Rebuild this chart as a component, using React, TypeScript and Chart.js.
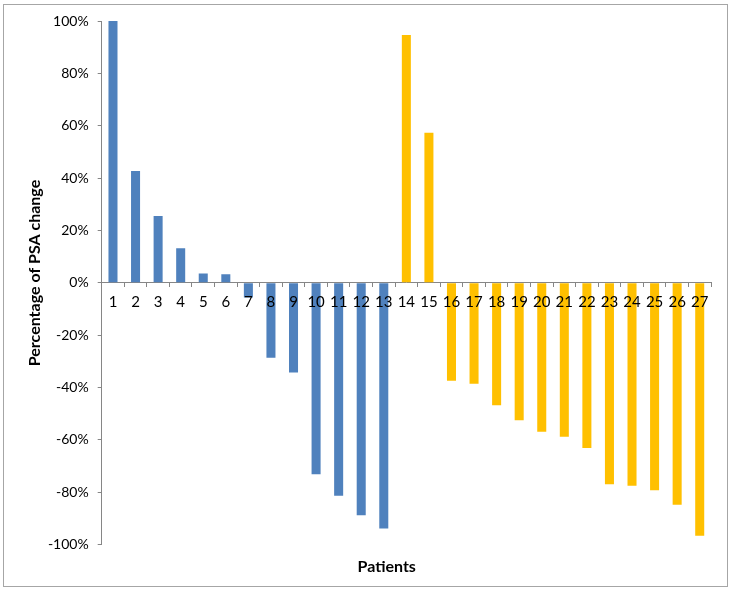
import React, { useEffect, useRef } from "react";
import { Chart, registerables } from "chart.js";

Chart.register(...registerables);

const patients: string[] = [
  "1", "2", "3", "4", "5", "6", "7", "8", "9", "10", "11", "12", "13", "14",
  "15", "16", "17", "18", "19", "20", "21", "22", "23", "24", "25", "26", "27",
];

// PSA change (%) per patient; group A = patients 1-13, group B = patients 14-27
const psaChange: number[] = [
  100, 42.7, 25.5, 13.2, 3.6, 3.3, -5.6, -28.6, -34.2, -73.1, -81.3, -88.8, -93.8,
  94.7, 57.3, -37.4, -38.5, -46.7, -52.5, -56.9, -58.8, -63.1, -76.9, -77.5, -79.2, -84.7, -96.6,
];

const groupA: number[] = [1, 2, 3, 4, 5, 6, 7, 8, 9, 10, 11, 12, 13];

const yTicks: number[] = [-100, -80, -60, -40, -20, 0, 20, 40, 60, 80, 100];

const xTitle = "Patients";
const yTitle = "Percentage of PSA change";

const BLUE = "#4F81BD";
const GOLD = "#FFC000";
const AXIS = "#868686";
const FONT = "Lato, 'Open Sans', sans-serif";

const frame = {
  id: "frame",
  beforeDraw(chart: any) {
    const { ctx } = chart;
    ctx.save();
    ctx.fillStyle = "#ffffff";
    ctx.fillRect(0, 0, chart.width, chart.height);
    ctx.strokeStyle = "#a6a6a6";
    ctx.lineWidth = 1;
    ctx.strokeRect(3.5, 4.5, 724, 582);
    ctx.restore();
  },
  afterDraw(chart: any) {
    const { ctx, chartArea } = chart;
    ctx.save();
    ctx.fillStyle = "#000";
    ctx.font = `bold 16px ${FONT}`;
    ctx.textAlign = "center";
    ctx.textBaseline = "middle";
    ctx.fillText(xTitle, chartArea.left + 285, chartArea.bottom + 22);
    ctx.translate(35, chartArea.top + 252);
    ctx.rotate(-Math.PI / 2);
    ctx.fillText(yTitle, 0, 0);
    ctx.restore();
  },
};

export default function App() {
  const ref = useRef<HTMLCanvasElement | null>(null);

  useEffect(() => {
    if (!ref.current) return;
    const colors = patients.map((p) => (groupA.includes(Number(p)) ? BLUE : GOLD));
    const chart = new Chart(ref.current, {
      type: "bar",
      data: {
        labels: patients,
        datasets: [
          {
            data: psaChange,
            backgroundColor: colors,
            borderWidth: 0,
            barPercentage: 0.4,
            categoryPercentage: 1,
          },
        ],
      },
      options: {
        responsive: false,
        animation: false,
        layout: { padding: { left: 0, right: 21, top: 21, bottom: 47.3 } },
        plugins: {
          legend: { display: false },
          tooltip: { enabled: false },
          title: { display: false },
        },
        scales: {
          x: {
            position: { y: 0 } as any,
            offset: true,
            grid: {
              display: true,
              drawOnChartArea: false,
              drawTicks: true,
              tickLength: 4,
              color: AXIS,
              offset: true,
            },
            border: { display: true, color: AXIS, width: 1 },
            ticks: {
              z: 1,
              color: "#000",
              font: { family: FONT, size: 15 },
              padding: 6,
              maxRotation: 0,
              autoSkip: false,
            },
          },
          y: {
            min: -100,
            max: 100,
            afterBuildTicks: (scale: any) => {
              scale.ticks = yTicks.map((v) => ({ value: v }));
            },
            afterFit: (scale: any) => {
              scale.width = 101.7;
            },
            grid: {
              display: true,
              drawOnChartArea: false,
              drawTicks: true,
              tickLength: 4,
              color: AXIS,
            },
            border: { display: true, color: AXIS, width: 1 },
            ticks: {
              color: "#000",
              font: { family: FONT, size: 14 },
              padding: 9,
              callback: (v: any) => `${v}%`,
            },
            title: { display: false },
          },
        },
      },
      plugins: [frame],
    });
    return () => chart.destroy();
  }, []);

  return (
    <div style={{ position: "fixed", left: 0, top: 0, width: 732, height: 592 }}>
      <canvas ref={ref} width={732} height={592} style={{ display: "block" }} />
    </div>
  );
}
